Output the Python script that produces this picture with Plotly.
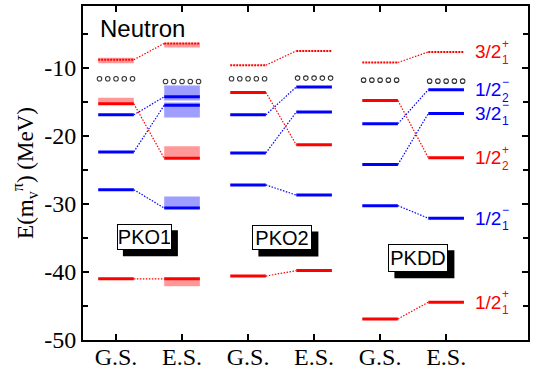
import plotly.graph_objects as go

# ---------------- data ----------------
x_tick_text = ["G.S.", "E.S.", "G.S.", "E.S.", "G.S.", "E.S."]
x_pos = [1, 2, 3, 4, 5, 6]
models = ["PKO1", "PKO2", "PKDD"]
model_x = [1.43, 3.52, 5.58]
model_y = [-34.9, -35.0, -38.0]

y_tick_vals = [-10, -20, -30, -40, -50]
y_tick_text = ["-10", "-20", "-30", "-40", "-50"]
y_minor_vals = [-5, -15, -25, -35, -45]

# energies ordered as x_pos: PKO1 GS, PKO1 ES, PKO2 GS, PKO2 ES, PKDD GS, PKDD ES
e_3_2p1 = [-8.8, -6.4, -9.6, -7.5, -9.2, -7.65]
e_1_2m2 = [-16.9, -14.25, -16.9, -12.8, -18.2, -13.2]
e_3_2m1 = [-22.35, -15.5, -22.5, -16.5, -24.2, -16.7]
e_1_2p2 = [-15.27, -23.3, -13.6, -21.3, -14.8, -23.2]
e_1_2m1 = [-27.9, -30.6, -27.2, -28.7, -30.25, -32.1]
e_1_2p1 = [-41.0, -41.0, -40.6, -39.8, -46.9, -44.45]
e_fermi = [-11.6, -12.0, -11.6, -11.5, -11.8, -11.95]

# PKO1 uncertainty bands: (low, high) for G.S. and E.S.
band_3_2p1 = [(-9.3, -8.5), (-7.0, -6.3)]
band_1_2m2 = [None, (-14.8, -12.6)]
band_3_2m1 = [None, (-17.3, -15.1)]
band_1_2p2 = [(-15.3, -14.4), (-23.3, -21.5)]
band_1_2m1 = [None, (-30.6, -28.9)]
band_1_2p1 = [None, (-42.1, -41.0)]

RED = "#FF0000"
BLUE = "#0000FF"
states = [
    ("3/2", "1", "+", e_3_2p1, RED, True, band_3_2p1),
    ("1/2", "2", "\u2212", e_1_2m2, BLUE, False, band_1_2m2),
    ("3/2", "1", "\u2212", e_3_2m1, BLUE, False, band_3_2m1),
    ("1/2", "2", "+", e_1_2p2, RED, False, band_1_2p2),
    ("1/2", "1", "\u2212", e_1_2m1, BLUE, False, band_1_2m1),
    ("1/2", "1", "+", e_1_2p1, RED, False, band_1_2p1),
]

# ---------------- layout constants ----------------
W, H = 536, 371
ML, MR, MT, MB = 83, 8, 6, 31
XR = [0.5, 7.24]
YR = [-50, -0.9]
px_x = (W - ML - MR) / (XR[1] - XR[0])
px_y = (H - MT - MB) / (YR[1] - YR[0])

half = 0.27
fig = go.Figure()
shapes = []
annotations = []

for main, sub, sup, en, col, dotted, bands in states:
    for i, b in enumerate(bands):
        if b is None:
            continue
        fill = "rgba(255,0,0,0.4)" if col == RED else "rgba(0,0,255,0.38)"
        shapes.append(dict(type="rect", xref="x", yref="y",
                           x0=x_pos[i] - half, x1=x_pos[i] + half,
                           y0=b[0], y1=b[1], fillcolor=fill,
                           line=dict(width=0), layer="below"))
    cx, cy = [], []
    for m in range(3):
        cx += [x_pos[2 * m] + half, x_pos[2 * m + 1] - half, None]
        cy += [en[2 * m], en[2 * m + 1], None]
    fig.add_trace(go.Scatter(x=cx, y=cy, mode="lines",
                             line=dict(color=col, width=1.2, dash="1.5px,1.5px"),
                             hoverinfo="skip", showlegend=False))
    lx, ly = [], []
    for i in range(6):
        lx += [x_pos[i] - half, x_pos[i] + half, None]
        ly += [en[i], en[i], None]
    if dotted:
        lstyle = dict(color=col, width=2, dash="2px,1px")
    else:
        lstyle = dict(color=col, width=3)
    fig.add_trace(go.Scatter(x=lx, y=ly, mode="lines", line=lstyle,
                             hoverinfo="skip", showlegend=False))
    annotations.append(dict(x=6.41, y=en[5], xref="x", yref="y", text=main,
                            showarrow=False, xanchor="left", yanchor="middle",
                            font=dict(family="Liberation Sans", size=19, color=col)))
    annotations.append(dict(x=6.82, y=en[5], xref="x", yref="y",
                            text=sup + "<br>" + sub, align="left",
                            showarrow=False, xanchor="left", yanchor="middle", yshift=0,
                            font=dict(family="Liberation Sans", size=12, color=col)))

fx, fy = [], []
for i in range(6):
    for off in [-0.25, -0.125, 0.0, 0.125, 0.25]:
        fx.append(x_pos[i] + off)
        fy.append(e_fermi[i])
fig.add_trace(go.Scatter(x=fx, y=fy, mode="markers",
                         marker=dict(symbol="circle-open", size=4.5, color="#333333",
                                     line=dict(width=1.1, color="#333333")),
                         hoverinfo="skip", showlegend=False))

# model boxes with drop shadow (box sizes in pixels)
box_w = [55, 60, 60]
box_h = [26, 25, 28]
shadow = 6
for name, mx, my, bw, bh in zip(models, model_x, model_y, box_w, box_h):
    shapes.append(dict(type="rect", xref="x", yref="y", layer="above",
                       x0=mx + (shadow - bw / 2) / px_x, x1=mx + (shadow + bw / 2) / px_x,
                       y0=my - (shadow + bh / 2) / px_y, y1=my - (shadow - bh / 2) / px_y,
                       fillcolor="black", line=dict(width=0)))
    annotations.append(dict(x=mx, y=my, xref="x", yref="y", text=name, showarrow=False,
                            width=bw - 4, height=bh - 4,
                            bgcolor="white", bordercolor="black",
                            borderwidth=1, borderpad=1,
                            font=dict(family="Liberation Sans", size=20, color="black")))

annotations.append(dict(x=0.034, y=0.934, xref="paper", yref="paper", text="Neutron",
                        showarrow=False, xanchor="left", yanchor="middle",
                        font=dict(family="Liberation Sans", size=24, color="black")))

fig.update_layout(
    width=W, height=H,
    margin=dict(l=ML, r=MR, t=MT, b=MB, autoexpand=False),
    plot_bgcolor="white", paper_bgcolor="white",
    shapes=shapes, annotations=annotations,
    xaxis=dict(range=XR, tickvals=x_pos, ticktext=x_tick_text, automargin=False,
               ticks="inside", ticklen=6, tickwidth=2, tickcolor="black",
               ticklabelstandoff=-6,
               showline=True, linewidth=2, linecolor="black", mirror="ticks",
               showgrid=False, zeroline=False,
               tickfont=dict(family="Liberation Serif", size=24, color="black")),
    yaxis=dict(range=YR, tickvals=y_tick_vals, ticktext=y_tick_text, automargin=False,
               ticks="inside", ticklen=6, tickwidth=2, tickcolor="black",
               minor=dict(tickvals=y_minor_vals, ticks="inside", ticklen=5,
                          tickwidth=2, tickcolor="black"),
               showline=True, linewidth=2, linecolor="black", mirror="ticks",
               showgrid=False, zeroline=False,
               tickfont=dict(family="Liberation Serif", size=24, color="black"),
               title=dict(text="E(m<sub>v</sub><sup>\u03c0</sup>) (MeV)", standoff=4,
                          font=dict(family="Liberation Serif", size=23, color="black"))),
)

fig.write_html("out.html")
